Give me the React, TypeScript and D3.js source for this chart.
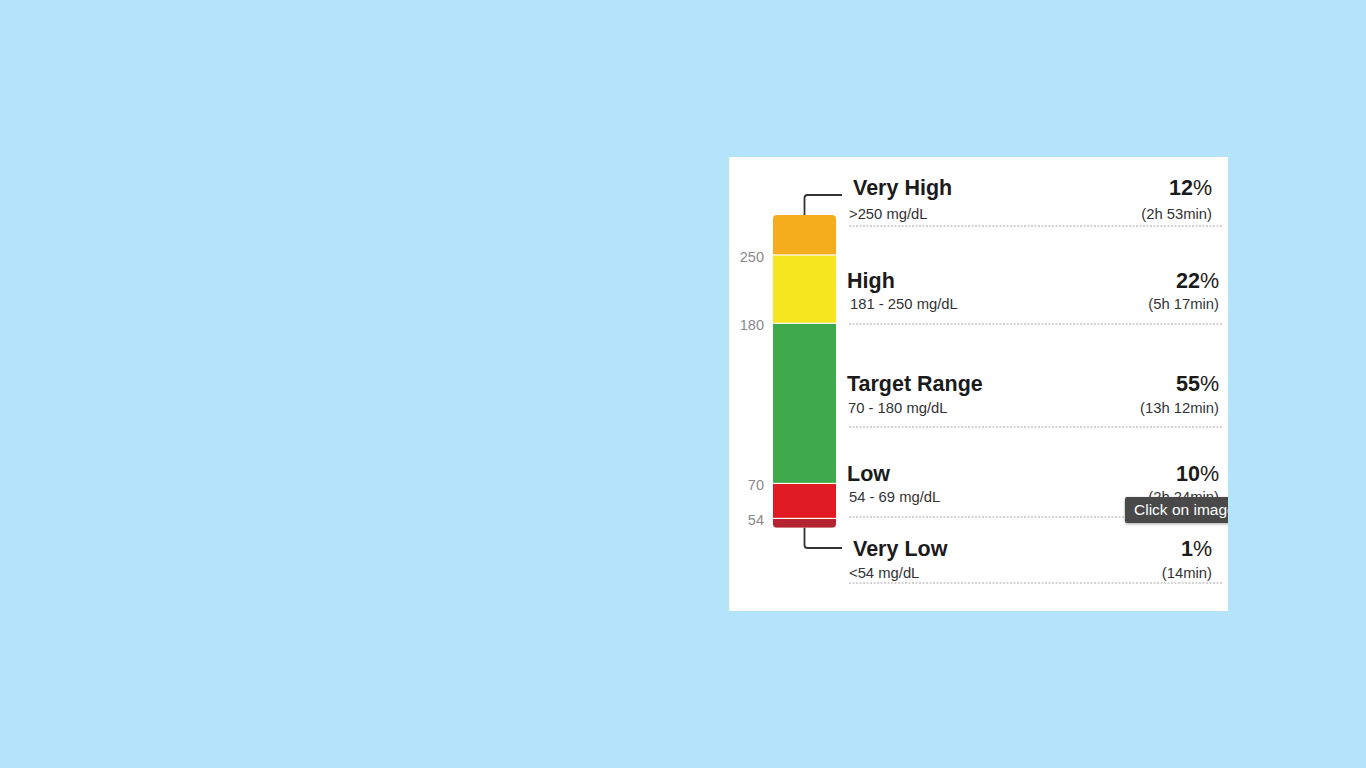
import React from "react";
import * as d3 from "d3";

// ---- data ----
const categories = ["Very High", "High", "Target Range", "Low", "Very Low"];
const rangeLabels = [">250 mg/dL", "181 - 250 mg/dL", "70 - 180 mg/dL", "54 - 69 mg/dL", "<54 mg/dL"];
const percents = [12, 22, 55, 10, 1];
const durations = ["(2h 53min)", "(5h 17min)", "(13h 12min)", "(2h 24min)", "(14min)"];
const thresholds = [250, 180, 70, 54];
const segColors = ["#F5AC1D", "#F5E620", "#3FAA4B", "#E01B24", "#B52231"];

// ---- layout (not data) ----
const W = 1366, H = 768;
const panel = { x: 729, y: 157, w: 499, h: 454 };
const bar = { x: 773, w: 63, top: 215, gap: 1.2 };
const rowTitleY = [195, 288, 391, 481, 556];
const rowSubY = [219, 309, 413, 502, 578];
const rowDashY = [226, 324, 427, 517, 583];
const rowTitleX = [853, 847, 847, 847, 853];
const rowSubX = [849, 850, 848, 849, 849];
const rowRightX = [1212, 1219, 1219, 1219, 1212];
const FONT = "'Liberation Sans', Arial, Helvetica, sans-serif";

export default function App() {
  // segment height grows linearly with the share, with a floor so small shares stay visible
  const hScale = d3.scaleLinear().domain([0, 100]).range([6, 284]);
  const heights = percents.map((p) => hScale(p));
  const segs: { y: number; h: number }[] = [];
  let cur = bar.top;
  heights.forEach((h, i) => {
    segs.push({ y: cur, h });
    cur += h + (i < heights.length - 1 ? bar.gap : 0);
  });
  const barBottom = cur;
  const cx = bar.x + bar.w / 2;

  const topPath = d3.path();
  topPath.moveTo(cx, bar.top);
  topPath.lineTo(cx, rowTitleY[0] + 3);
  topPath.quadraticCurveTo(cx, rowTitleY[0], cx + 3, rowTitleY[0]);
  topPath.lineTo(842, rowTitleY[0]);

  const botY = 548;
  const botPath = d3.path();
  botPath.moveTo(cx, barBottom);
  botPath.lineTo(cx, botY - 3);
  botPath.quadraticCurveTo(cx, botY, cx + 3, botY);
  botPath.lineTo(842, botY);

  return (
    <svg width={W} height={H} style={{ position: "absolute", left: 0, top: 0 }} fontFamily={FONT}>
      <defs>
        <clipPath id="barClip">
          <rect x={bar.x} y={bar.top} width={bar.w} height={barBottom - bar.top} rx={4} />
        </clipPath>
        <clipPath id="panelClip">
          <rect x={panel.x} y={panel.y} width={panel.w} height={panel.h} />
        </clipPath>
        <filter id="shadow" x="-20%" y="-40%" width="140%" height="180%">
          <feDropShadow dx="0" dy="1" stdDeviation="1.5" floodColor="#000" floodOpacity="0.35" />
        </filter>
      </defs>
      <rect x={0} y={0} width={W} height={H} fill="#B4E4F9" />
      <rect x={panel.x} y={panel.y} width={panel.w} height={panel.h} fill="#ffffff" />

      {/* bar */}
      <g clipPath="url(#barClip)">
        {segs.map((s, i) => (
          <rect key={i} x={bar.x} y={s.y} width={bar.w} height={s.h} fill={segColors[i]} />
        ))}
      </g>

      {/* threshold labels */}
      {thresholds.map((t, i) => (
        <text key={t} x={764} y={segs[i].y + segs[i].h + 3.5} textAnchor="end" dominantBaseline="middle"
          fontSize={14.5} fill="#8a8a8a">{t}</text>
      ))}

      {/* connectors */}
      <path d={topPath.toString()} fill="none" stroke="#333" strokeWidth={1.8} />
      <path d={botPath.toString()} fill="none" stroke="#333" strokeWidth={1.8} />

      {/* rows */}
      {categories.map((c, i) => (
        <g key={c}>
          <text x={rowTitleX[i]} y={rowTitleY[i]} fontSize={21.5} fontWeight="bold" fill="#1b1b1b">{c}</text>
          <text x={rowSubX[i]} y={rowSubY[i]} fontSize={14.8} fill="#333">{rangeLabels[i]}</text>
          <text x={rowRightX[i]} y={rowTitleY[i]} textAnchor="end" fontSize={21.5} fill="#1b1b1b">
            <tspan fontWeight="bold">{percents[i]}</tspan>
            <tspan fontWeight="normal">%</tspan>
          </text>
          <text x={rowRightX[i]} y={rowSubY[i]} textAnchor="end" fontSize={14.8} fill="#333">{durations[i]}</text>
          <line x1={849} x2={1222} y1={rowDashY[i]} y2={rowDashY[i]} stroke="#a8a8a8" strokeWidth={1}
            strokeDasharray="2,1.5" />
        </g>
      ))}

      {/* tooltip */}
      <g clipPath="url(#panelClip)">
        <rect x={1125} y={497} width={120} height={26} rx={2} fill="#4a4a4a" filter="url(#shadow)" />
        <text x={1134} y={514.5} fontSize={15.5} fill="#ffffff">Click on image</text>
      </g>
    </svg>
  );
}
